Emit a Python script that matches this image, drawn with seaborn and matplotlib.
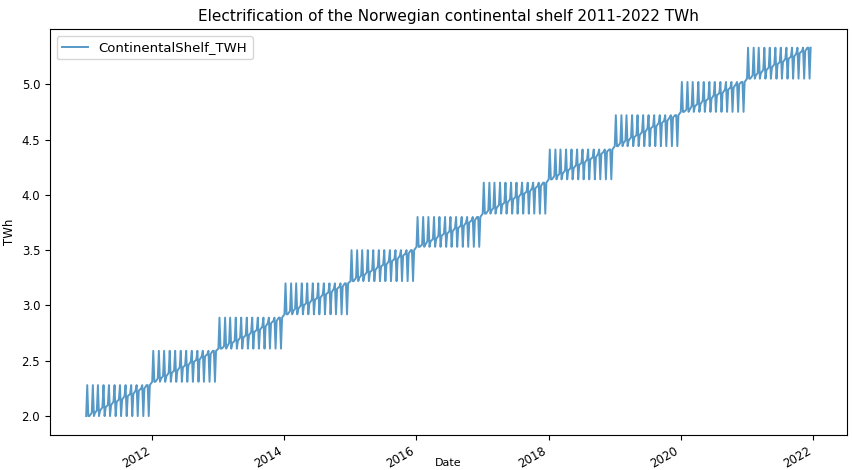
import matplotlib
matplotlib.use("Agg")
import matplotlib.pyplot as plt
import pandas as pd
import seaborn as sns

# Annual span of the monthly series (TWh)
years = [2011, 2012, 2013, 2014, 2015, 2016, 2017, 2018, 2019, 2020, 2021]
year_low = [2.00, 2.31, 2.61, 2.92, 3.22, 3.53, 3.83, 4.14, 4.44, 4.75, 5.05]
year_high = [2.28, 2.59, 2.89, 3.20, 3.50, 3.80, 4.11, 4.41, 4.72, 5.02, 5.33]

# Monthly level within each year (TWh)
month_level = [
    [2.00, 2.03, 2.05, 2.08, 2.10, 2.13, 2.15, 2.18, 2.20, 2.23, 2.25, 2.28],
    [2.31, 2.34, 2.36, 2.39, 2.41, 2.44, 2.46, 2.49, 2.51, 2.54, 2.56, 2.59],
    [2.61, 2.63, 2.66, 2.68, 2.71, 2.73, 2.76, 2.78, 2.81, 2.84, 2.86, 2.89],
    [2.92, 2.95, 2.97, 3.00, 3.02, 3.05, 3.07, 3.10, 3.12, 3.15, 3.17, 3.20],
    [3.22, 3.25, 3.27, 3.30, 3.32, 3.35, 3.37, 3.40, 3.42, 3.45, 3.47, 3.50],
    [3.53, 3.55, 3.58, 3.60, 3.63, 3.65, 3.67, 3.70, 3.72, 3.75, 3.77, 3.80],
    [3.83, 3.86, 3.88, 3.91, 3.93, 3.96, 3.98, 4.01, 4.03, 4.06, 4.08, 4.11],
    [4.14, 4.17, 4.19, 4.22, 4.24, 4.27, 4.29, 4.32, 4.34, 4.37, 4.39, 4.41],
    [4.44, 4.47, 4.49, 4.52, 4.54, 4.57, 4.60, 4.62, 4.65, 4.67, 4.70, 4.72],
    [4.75, 4.77, 4.80, 4.82, 4.85, 4.87, 4.90, 4.92, 4.95, 4.97, 5.00, 5.02],
    [5.05, 5.08, 5.10, 5.13, 5.15, 5.18, 5.20, 5.23, 5.25, 5.28, 5.30, 5.33],
]

# Build the observation table: each month holds its level, the year's
# high and low readings, then the level again.
rows = []
for y, lo, hi, levels in zip(years, year_low, year_high, month_level):
    for m, lev in enumerate(levels, start=1):
        start = pd.Timestamp(year=y, month=m, day=1)
        rows.append((start, lev))
        rows.append((start + pd.Timedelta(days=6), hi))
        rows.append((start + pd.Timedelta(days=12), lo))
        rows.append((start + pd.Timedelta(days=18), lev))
df = pd.DataFrame(rows, columns=["Date", "ContinentalShelf_TWH"])

fig = plt.figure(figsize=(8.52, 4.70), dpi=100)
ax = fig.add_axes([0.0586, 0.0755, 0.9354, 0.8622])

sns.lineplot(data=df, x="Date", y="ContinentalShelf_TWH", ax=ax,
             estimator=None, sort=False, color="#1f77b4", alpha=0.75,
             linewidth=1.4, label="ContinentalShelf_TWH")

ax.set_title("Electrification of the Norwegian continental shelf 2011-2022 TWh",
             fontsize=11)
ax.set_ylabel("TWh", fontsize=8.5)
ax.set_xlabel("Date", fontsize=8)
ax.xaxis.set_label_coords(0.5, -0.058)
ax.tick_params(labelsize=8.5)
ax.legend(loc="upper left", fontsize=9.5)
for lbl in ax.get_xticklabels():
    lbl.set_rotation(30)
    lbl.set_ha("right")

fig.savefig("out.png", dpi=100)
